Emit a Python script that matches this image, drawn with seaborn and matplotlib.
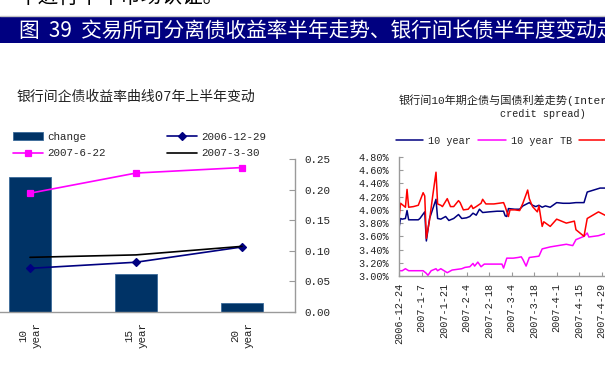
import numpy as np
import pandas as pd
import matplotlib
matplotlib.use("Agg")
import matplotlib.pyplot as plt
import seaborn as sns
from matplotlib.patches import Rectangle
from matplotlib.lines import Line2D
from matplotlib.ticker import FuncFormatter

# ---------------- text ----------------
top_text = "中进行半年市场认证。"
banner_text = "图  39  交易所可分离债收益率半年走势、银行间长债半年度变动走势"
left_title = "银行间企债收益率曲线07年上半年变动"
right_title_1 = "银行间10年期企债与国债利差走势(Interbank"
right_title_2 = "credit spread)"

# ---------------- left chart data ----------------
tenors = ["10\nyear", "15\nyear", "20\nyear"]
change = [0.220, 0.061, 0.014]
curve_20061229 = [0.071, 0.081, 0.106]
curve_20070622 = [0.194, 0.227, 0.236]
curve_20070330 = [0.089, 0.093, 0.107]
left_yticks = [0.00, 0.05, 0.10, 0.15, 0.20, 0.25]

# ---------------- right chart data (days after 2006-12-24, yield %) ----------------
base_date = "2006-12-24"
corp10_days = [0, 1, 2, 4, 5, 6, 12, 13, 16, 17, 19, 23, 24, 26, 29, 31, 34, 37, 39, 42,
               44, 46, 48, 50, 52, 56, 61, 65, 66, 67, 68, 72, 75, 77, 81, 83, 85, 87, 89,
               91, 94, 98, 102, 106, 110, 115, 117, 121, 125, 128, 131]
corp10_vals = [3.73, 3.87, 3.86, 3.87, 3.99, 3.85, 3.85, 3.87, 3.97, 3.53, 3.87, 4.16, 3.87,
               3.86, 3.90, 3.84, 3.87, 3.93, 3.87, 3.88, 3.90, 3.95, 3.92, 4.01, 3.96, 3.97,
               3.98, 3.98, 3.91, 3.90, 4.02, 4.01, 4.01, 4.06, 4.11, 4.07, 4.05, 4.07, 4.04,
               4.06, 4.04, 4.11, 4.10, 4.10, 4.11, 4.11, 4.27, 4.30, 4.33, 4.33, 4.33]

tb10_days = [0, 2, 4, 6, 11, 15, 17, 18, 20, 23, 24, 26, 28, 30, 33, 36, 39, 41, 44, 46, 47,
             49, 51, 53, 59, 64, 65, 67, 71, 74, 76, 77, 79, 81, 84, 87, 89, 94, 99, 104,
             108, 110, 115, 117, 118, 124, 128, 131]
tb10_vals = [3.08, 3.08, 3.11, 3.08, 3.08, 3.08, 3.04, 3.01, 3.08, 3.11, 3.08, 3.11, 3.08,
             3.05, 3.09, 3.10, 3.11, 3.13, 3.14, 3.19, 3.15, 3.21, 3.14, 3.18, 3.18, 3.18,
             3.12, 3.27, 3.27, 3.28, 3.29, 3.25, 3.15, 3.28, 3.29, 3.30, 3.41, 3.44, 3.46,
             3.48, 3.46, 3.55, 3.60, 3.65, 3.59, 3.61, 3.64, 3.65]

third_days = [0, 1, 2, 4, 5, 6, 9, 12, 15, 16, 17, 19, 21, 23, 24, 26, 27, 30, 32, 34, 37,
              38, 40, 43, 45, 46, 48, 51, 52, 54, 59, 65, 66, 68, 69, 72, 75, 77, 80, 81,
              83, 86, 87, 89, 90, 94, 98, 104, 109, 110, 115, 117, 124, 128, 131]
third_vals = [3.88, 4.10, 4.08, 4.04, 4.31, 4.04, 4.05, 4.07, 4.26, 4.21, 3.57, 3.85, 4.22,
              4.57, 4.09, 4.07, 4.05, 4.17, 4.05, 4.05, 4.14, 4.11, 4.00, 4.01, 4.07, 4.02,
              4.05, 4.10, 4.16, 4.09, 4.09, 4.11, 4.05, 3.90, 4.00, 4.00, 3.99, 4.10, 4.30,
              4.17, 4.05, 3.97, 4.06, 3.75, 3.82, 3.75, 3.86, 3.80, 3.83, 3.70, 3.60, 3.87,
              3.97, 3.92, 3.90]

series_labels = ["10 year", "10 year TB", "15 year"]
date_tick_labels = ["2006-12-24", "2007-1-7", "2007-1-21", "2007-2-4", "2007-2-18",
                    "2007-3-4", "2007-3-18", "2007-4-1", "2007-4-15", "2007-4-29"]
right_yticks = [3.0, 3.2, 3.4, 3.6, 3.8, 4.0, 4.2, 4.4, 4.6, 4.8]
x_end_date = "2007-6-24"

# ---------------- style ----------------
sns.set_style("white")
plt.rcParams["font.family"] = ["Liberation Mono", "Noto Sans CJK SC"]
plt.rcParams["axes.unicode_minus"] = False

W, H = 605, 375
fig = plt.figure(figsize=(W / 100, H / 100), dpi=100)
fig.patch.set_facecolor("white")


def fx(px):
    return px / W


def fy(py):
    return 1 - py / H


# top (cut) text line and banner
fig.text(fx(17), fy(-3), top_text, fontsize=14.9, color="black", va="center", ha="left",
         family=["Noto Sans CJK SC"])
fig.add_artist(Line2D([0, 1], [fy(15.7), fy(15.7)], color="#c4c4c4", lw=1.0,
                      transform=fig.transFigure))
fig.add_artist(Rectangle((0, fy(43.3)), 1, 26.3 / H, transform=fig.transFigure,
                         facecolor="#000080", edgecolor="none"))
fig.text(fx(19), fy(30.5), banner_text, fontsize=14.9, color="white", va="center",
         ha="left", family=["Noto Sans CJK SC"])

# ---------------- left chart ----------------
axis_gray = "#9a9a9a"
ax1 = fig.add_axes([fx(-23), fy(311.7), 318 / W, (311.7 - 159) / H])
sns.barplot(x=tenors, y=change, color="#003366", saturation=1, width=0.4,
            edgecolor="#3a6a9a", linewidth=0.6, ax=ax1, label="change")
sns.pointplot(x=tenors, y=curve_20061229, color="#000080", markers="D", markersize=4.5,
              linewidth=1.2, errorbar=None, ax=ax1, label="2006-12-29")
sns.pointplot(x=tenors, y=curve_20070330, color="black", markers="", linewidth=1.2,
              errorbar=None, ax=ax1, label="2007-3-30")
sns.pointplot(x=tenors, y=curve_20070622, color="#ff00ff", markers="s", markersize=5,
              linewidth=1.2, errorbar=None, ax=ax1, label="2007-6-22")

ax1.set_xlim(-0.5, len(tenors) - 0.5)
ax1.set_ylim(left_yticks[0], left_yticks[-1])
ax1.yaxis.tick_right()
ax1.set_yticks(left_yticks)
ax1.yaxis.set_major_formatter(FuncFormatter(lambda v, p: f"{v:.2f}"))
ax1.set_xlabel("")
ax1.set_ylabel("")
for s in ["left", "top"]:
    ax1.spines[s].set_visible(False)
for s in ["right", "bottom"]:
    ax1.spines[s].set_color(axis_gray)
    ax1.spines[s].set_linewidth(1.0)
ax1.tick_params(axis="y", direction="in", length=4, width=0.8, color=axis_gray, pad=7,
                labelsize=7.8, labelcolor="#222222", right=True, left=False)
ax1.set_xticks(range(len(tenors)))
ax1.set_xticklabels(tenors, rotation=90, ha="center", va="top", linespacing=1.5,
                    multialignment="center", fontsize=7.8, color="#222222")
ax1.set_xticks([0.5, 1.5], minor=True)
ax1.tick_params(axis="x", which="major", length=0, pad=7.5)
ax1.tick_params(axis="x", which="minor", direction="in", length=4, width=0.8, color=axis_gray)

h, l = ax1.get_legend_handles_labels()
lookup = dict(zip(l, h))
order = ["change", "2007-6-22", "2006-12-29", "2007-3-30"]
ax1.legend([lookup[k] for k in order], order, ncol=2, loc="upper left",
           bbox_to_anchor=(fx(13), fy(132)), bbox_transform=fig.transFigure,
           frameon=False, fontsize=7.8, handlelength=2.8, handletextpad=0.4,
           columnspacing=5.6, borderaxespad=0, borderpad=0, labelspacing=0.6)

fig.text(fx(17), fy(97), left_title, fontsize=10, color="#222222", va="center", ha="left")

# ---------------- right chart ----------------
base = pd.Timestamp(base_date)
corp10_dates = base + pd.to_timedelta(corp10_days, unit="D")
tb10_dates = base + pd.to_timedelta(tb10_days, unit="D")
third_dates = base + pd.to_timedelta(third_days, unit="D")
x_end = pd.Timestamp(x_end_date)
n_days = (x_end - base).days
px_per_day = 202.7 / 126

ax2 = fig.add_axes([fx(399), fy(276), n_days * px_per_day / W, (276 - 157) / H])
sns.lineplot(x=corp10_dates, y=corp10_vals, color="#000080", linewidth=1.1, ax=ax2,
             label=series_labels[0])
sns.lineplot(x=tb10_dates, y=tb10_vals, color="#ff00ff", linewidth=1.1, ax=ax2,
             label=series_labels[1])
sns.lineplot(x=third_dates, y=third_vals, color="#ff0000", linewidth=1.1, ax=ax2,
             label=series_labels[2])

ax2.set_xlim(base, x_end)
ax2.set_ylim(right_yticks[0], right_yticks[-1])
ax2.set_yticks(right_yticks)
ax2.yaxis.set_major_formatter(FuncFormatter(lambda v, p: f"{v:.2f}%"))
ax2.set_xticks(pd.to_datetime(date_tick_labels))
ax2.set_xticklabels(date_tick_labels, rotation=90, ha="center", va="top",
                    fontsize=7.3, color="#222222")
ax2.set_xlabel("")
ax2.set_ylabel("")
for s in ["right", "top"]:
    ax2.spines[s].set_visible(False)
for s in ["left", "bottom"]:
    ax2.spines[s].set_color(axis_gray)
    ax2.spines[s].set_linewidth(1.0)
ax2.tick_params(axis="y", direction="in", length=3, width=0.8, color=axis_gray, pad=7,
                labelsize=7.3, labelcolor="#222222", left=True)
ax2.tick_params(axis="x", direction="in", length=3, width=0.8, color=axis_gray, pad=5,
                bottom=True)

ax2.legend(ncol=3, loc="upper left", bbox_to_anchor=(fx(396), fy(136)),
           bbox_transform=fig.transFigure, frameon=False, fontsize=7.3,
           handlelength=2.7, handletextpad=0.5, columnspacing=0.7, borderaxespad=0,
           borderpad=0)

fig.text(fx(399), fy(100), right_title_1, fontsize=8, color="#222222", va="center",
         ha="left")
fig.text(fx(543), fy(114), right_title_2, fontsize=7.3, color="#222222", va="center",
         ha="center")

fig.savefig("out.png", dpi=100)
